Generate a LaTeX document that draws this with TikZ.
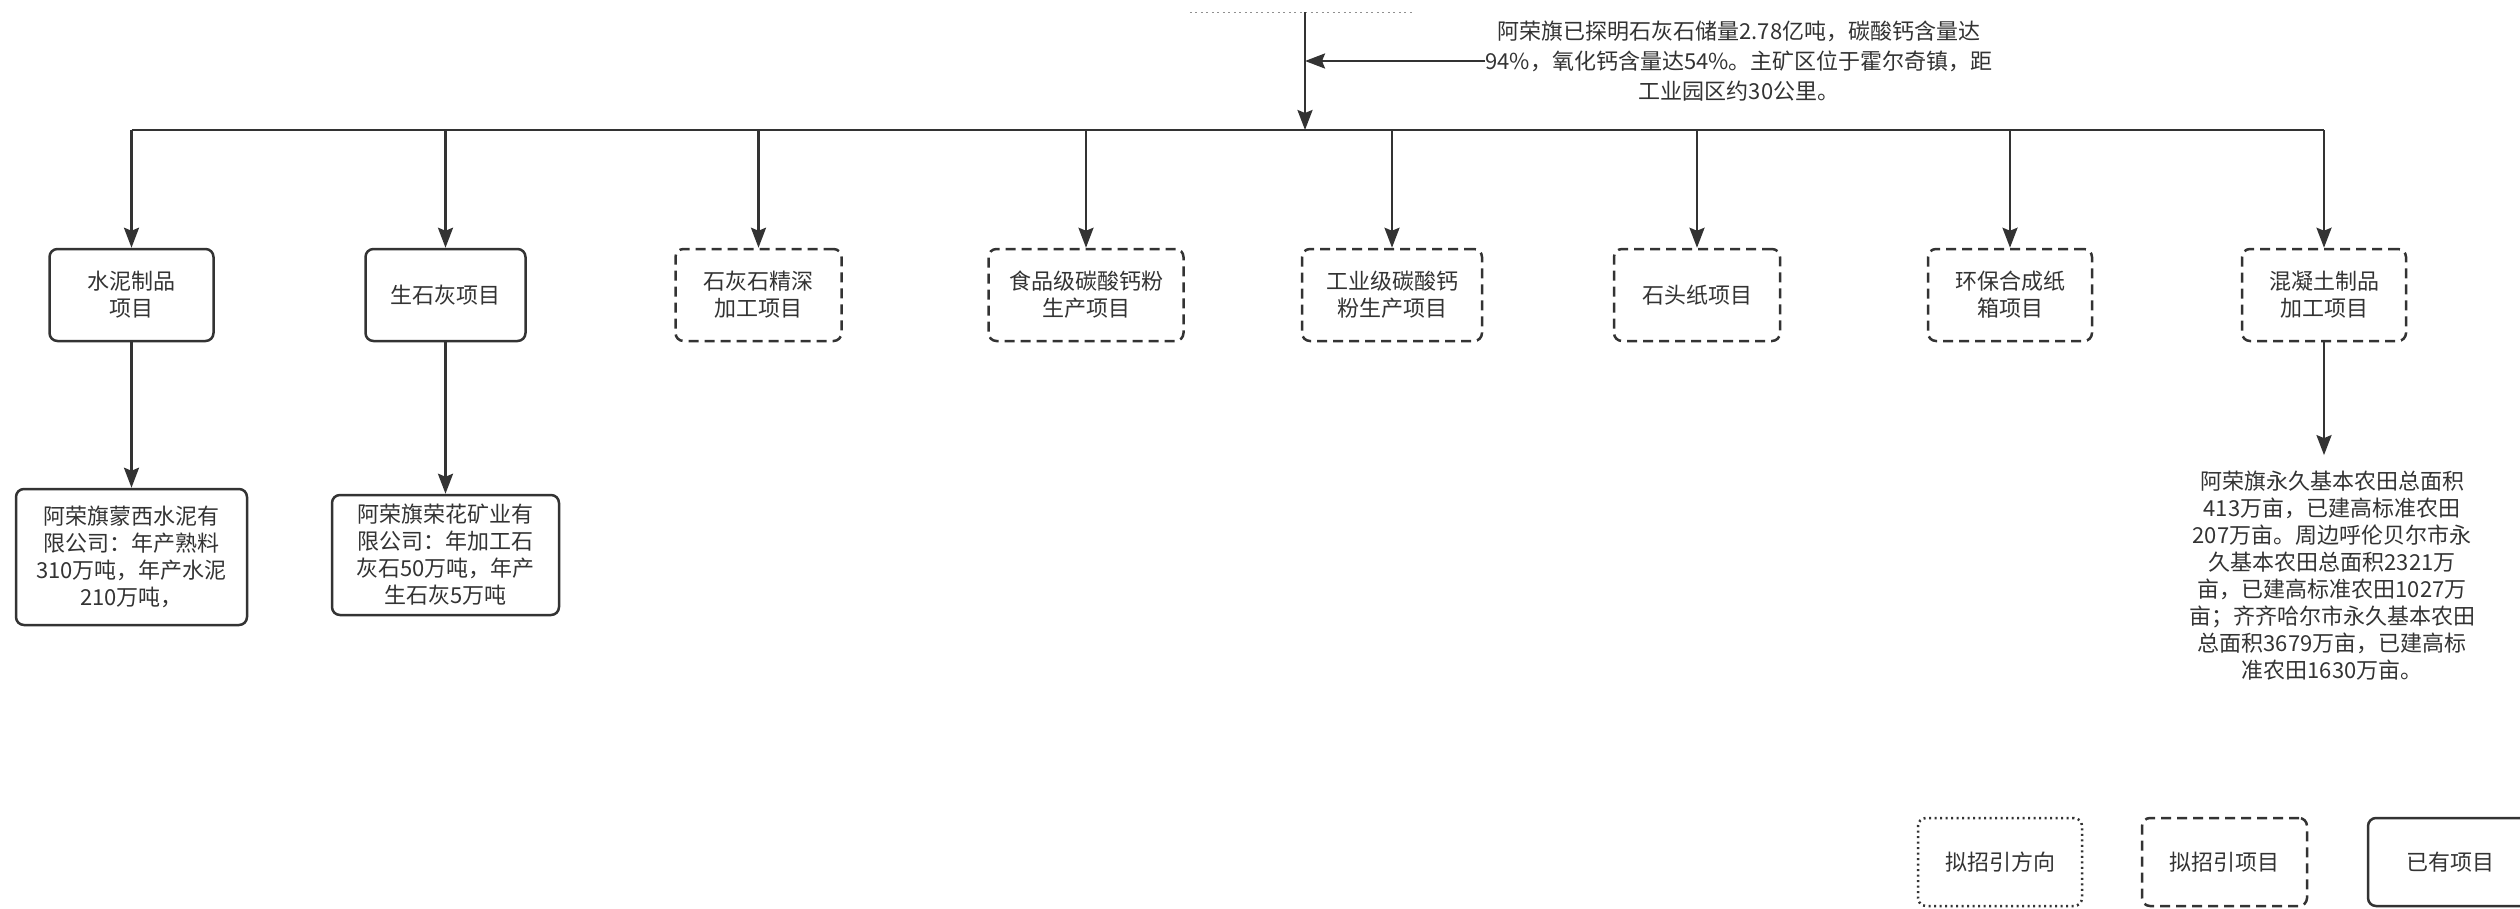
\documentclass[tikz,border=0pt]{standalone}
\usepackage{fontspec}
\setmainfont{Noto Sans CJK SC}
\usetikzlibrary{arrows.meta}
\definecolor{ink}{HTML}{333333}
\begin{document}
\begin{tikzpicture}[x=1pt,y=-1pt,
  box/.style={draw=ink, line width=2.5pt, rounded corners=8pt, minimum height=92pt,
    align=center, text=ink, font=\fontsize{22}{27}\selectfont, inner sep=0pt},
  have/.style={box},
  plan/.style={box, dash pattern=on 10pt off 6pt},
  aim/.style={box, dash pattern=on 2pt off 3.5pt},
  ln/.style={draw=ink, line width=2.5pt},
  arr/.style={ln, -{Stealth[length=20pt,width=15pt,inset=3pt]}},
  txt/.style={text=ink, align=center, inner sep=0pt}]
\useasboundingbox (0,0) rectangle (2520,908);
\clip (0,0) rectangle (2520,908);

% partly visible source box at the top (only its lower edge shows)
\node[minimum width=224pt, minimum height=104pt, inner sep=0pt] (src) at (1302,-40) {};
\draw[draw=ink!55, line width=1.2pt, dash pattern=on 2pt off 3.5pt] (src.south west) -- (src.south east);

% note
\node[txt, font=\fontsize{22}{30}\selectfont] (note) at (1739,61)
  {阿荣旗已探明石灰石储量2.78亿吨，碳酸钙含量达\\94\%，氧化钙含量达54\%。主矿区位于霍尔奇镇，距\\工业园区约30公里。};

% first row
\node[have, minimum width=164pt] (b1) at (131.5,295) {水泥制品\\项目};
\node[have, minimum width=160pt] (b2) at (445.5,295) {生石灰项目};
\node[plan, minimum width=166pt] (b3) at (758.5,295) {石灰石精深\\加工项目};
\node[plan, minimum width=195pt] (b4) at (1086,295) {食品级碳酸钙粉\\生产项目};
\node[plan, minimum width=180pt] (b5) at (1392,295) {工业级碳酸钙\\粉生产项目};
\node[plan, minimum width=166pt] (b6) at (1697,295) {石头纸项目};
\node[plan, minimum width=164pt] (b7) at (2010,295) {环保合成纸\\箱项目};
\node[plan, minimum width=164pt] (b8) at (2324,295) {混凝土制品\\加工项目};

% second row
\node[have, minimum width=231pt, minimum height=136pt] (c1) at (131.5,557)
  {阿荣旗蒙西水泥有\\限公司：年产熟料\\310万吨，年产水泥\\210万吨，};
\node[have, minimum width=227pt, minimum height=120pt] (c2) at (445.5,555)
  {阿荣旗荣花矿业有\\限公司：年加工石\\灰石50万吨，年产\\生石灰5万吨};
\node[txt, font=\fontsize{22}{27}\selectfont, inner ysep=16pt] (farm) at (2332,576)
  {阿荣旗永久基本农田总面积\\413万亩，已建高标准农田\\207万亩。周边呼伦贝尔市永\\久基本农田总面积2321万\\亩，已建高标准农田1027万\\亩；齐齐哈尔市永久基本农田\\总面积3679万亩，已建高标\\准农田1630万亩。};

% legend
\node[aim, minimum width=164pt, minimum height=88pt] (l1) at (2000,862) {拟招引方向};
\node[plan, minimum width=165pt, minimum height=88pt] (l2) at (2224.5,862) {拟招引项目};
\node[have, minimum width=200pt, minimum height=88pt] (l3) at (2468,862) {已有项目\hspace*{36pt}};

% connectors
\coordinate (bus) at (1305,130);
\coordinate (j) at (1305,61);
\draw[ln] (b1.north |- bus) -- (b8.north |- bus);
\draw[arr] (src.south -| bus) -- (bus);
\draw[arr] (note.west) -- (j);
\foreach \i in {1,...,8} \draw[arr] (b\i.north |- bus) -- (b\i.north);
\draw[arr] (b1.south) -- (c1.north);
\draw[arr] (b2.south) -- (c2.north);
\draw[arr] (b8.south) -- (b8.south |- farm.north);
\end{tikzpicture}
\end{document}
